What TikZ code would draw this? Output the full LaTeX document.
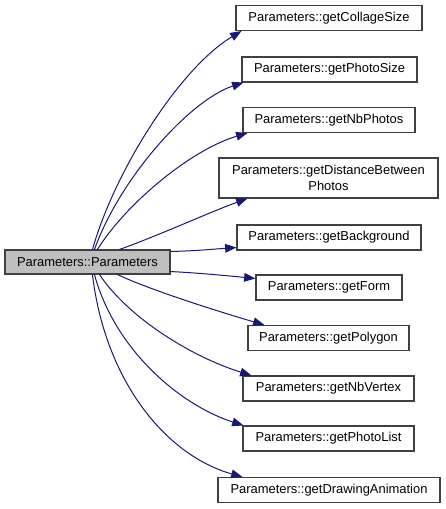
\documentclass[tikz,border=0pt]{standalone}
\usepackage{fontspec}
\setmainfont{Liberation Sans}
\usetikzlibrary{arrows.meta,calc}
\definecolor{edgeblue}{HTML}{191970}
\definecolor{maingray}{HTML}{BFBFBF}
\definecolor{boxline}{HTML}{404040}
\begin{document}
\begin{tikzpicture}[x=0.75pt,y=-0.75pt,
  box/.style={draw=boxline, line width=0.8pt, fill=white, inner sep=0pt,
    minimum height=18.75pt, font=\fontsize{9.7}{11.5}\selectfont, align=center},
  edge/.style={draw=edgeblue, line width=0.75pt, -{Triangle[length=8.5pt,width=6.5pt]}}]
\useasboundingbox (0,0) rectangle (445,509);
\node[box, fill=maingray, minimum width=123.75pt, minimum height=18pt] (main) at (87.5,262) {Parameters::Parameters};
\node[box, minimum width=139.5pt] (n1) at (329,18) {Parameters::getCollageSize};
\node[box, minimum width=131.25pt] (n2) at (329.5,69.5) {Parameters::getPhotoSize};
\node[box, minimum width=129pt] (n3) at (329,120) {Parameters::getNbPhotos};
\node[box, minimum width=164.25pt, minimum height=30pt] (n4) at (328.5,178) {Parameters::getDistanceBetween\\Photos};
\node[box, minimum width=138pt] (n5) at (329,237.5) {Parameters::getBackground};
\node[box, minimum width=109.5pt] (n6) at (329,287.5) {Parameters::getForm};
\node[box, minimum width=120.75pt] (n7) at (328.5,338) {Parameters::getPolygon};
\node[box, minimum width=128.25pt] (n8) at (328.5,388.5) {Parameters::getNbVertex};
\node[box, minimum width=128.25pt] (n9) at (328.5,438.5) {Parameters::getPhotoList};
\node[box, minimum width=166.5pt] (n10) at (329,490) {Parameters::getDrawingAnimation};

\draw[edge] ($(main.north west)+(88,0)$) .. controls (115,170) and (180,68) .. ($(n1.south west)+(6,0)$);
\draw[edge] ($(main.north west)+(90,0)$) .. controls (120,178) and (190,100) .. ($(n2.south west)+(2,0)$);
\draw[edge] ($(main.north west)+(93,0)$) .. controls (125,205) and (190,150) .. ($(n3.south west)+(5,0)$);
\draw[edge] ($(main.north west)+(115,0)$) .. controls (160,235) and (210,212) .. ($(n4.south west)+(29,0)$);
\draw[edge] ($(main.north east)+(0,2)$) .. controls (195,251) and (215,249) .. ($(n5.south west)+(0,-3)$);
\draw[edge] ($(main.south east)+(0,-3)$) .. controls (200,273) and (230,276) .. ($(n6.north west)+(0,4)$);
\draw[edge] ($(main.south west)+(113,0)$) .. controls (150,290) and (220,312) .. ($(n7.north west)+(17,0)$);
\draw[edge] ($(main.south west)+(95,0)$) .. controls (130,320) and (195,358) .. ($(n8.north west)+(9,0)$);
\draw[edge] ($(main.south west)+(90,0)$) .. controls (115,350) and (180,405) .. ($(n9.north west)+(1,0)$);
\draw[edge] ($(main.south west)+(88,0)$) .. controls (105,380) and (165,455) .. ($(n10.north west)+(25,0)$);
\end{tikzpicture}
\end{document}
